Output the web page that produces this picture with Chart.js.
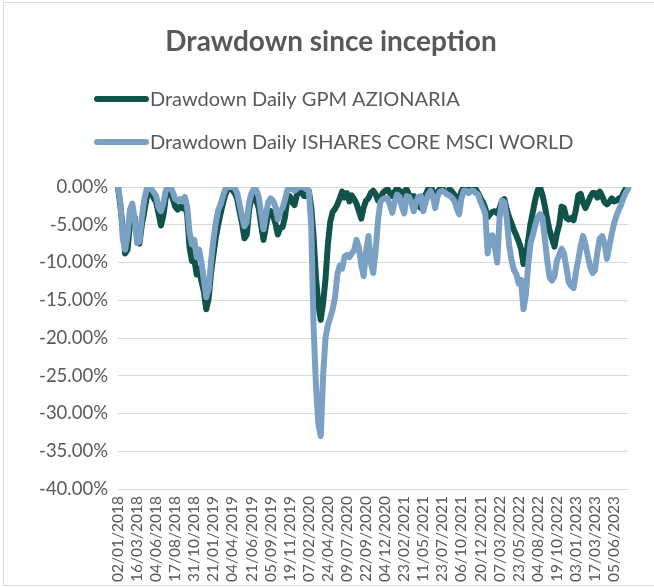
<!DOCTYPE html>
<html>
<head>
<meta charset="utf-8">
<script src="https://cdn.jsdelivr.net/npm/chart.js@4.4.1/dist/chart.umd.min.js"></script>
<style>
  html, body { margin: 0; padding: 0; background: #fff; }
  #wrap { width: 654px; height: 587px; position: relative; }
</style>
</head>
<body>
<div id="wrap"><canvas id="drawdown-chart" width="654" height="587"></canvas></div>
<script>
const TITLE = 'Drawdown since inception';
const SERIES_NAMES = ['Drawdown Daily GPM AZIONARIA', 'Drawdown Daily ISHARES CORE MSCI WORLD'];

// one tick label every 8 points
const TICK_LABELS = [
  '02/01/2018', '16/03/2018', '04/06/2018', '17/08/2018', '31/10/2018', '21/01/2019',
  '04/04/2019', '21/06/2019', '05/09/2019', '19/11/2019', '07/02/2020', '24/04/2020',
  '09/07/2020', '22/09/2020', '04/12/2020', '23/02/2021', '11/05/2021', '23/07/2021',
  '06/10/2021', '20/12/2021', '07/03/2022', '23/05/2022', '04/08/2022', '19/10/2022',
  '03/01/2023', '17/03/2023', '05/06/2023'
];
const POINTS_PER_TICK = 8;

const GPM = [
  0, -2.5, -5.5, -8.8, -8.3, -5, -3.3, -4, -6.6, -7.5,
  -5, -3.3, -1.5, -0.2, -0.8, -1.5, -2, -3.5, -5.1, -3.8,
  -1.5, -0.1, -0.7, -1.6, -2.6, -3, -2.6, -2.8, -2.5, -3.6,
  -8, -9.8, -9.6, -11.6, -10.8, -12.5, -13.8, -16.2, -14.8, -11.4,
  -9, -6.7, -5, -3.5, -2.2, -1, -0.3, -0.1, -0.4, -0.8,
  -1.6, -3.3, -4.8, -6.8, -6.3, -3, -1.4, -1.2, -1.8, -2.8,
  -5, -7, -5.3, -3.5, -3.2, -3.8, -4.8, -6.3, -5.4, -5.3,
  -4, -1.6, -1.2, -2, -2.4, -1, -0.7, -0.6, -1.2, -1.2,
  -0.5, -2.6, -6.5, -12, -15.6, -17.6, -15.4, -12.2, -7.6, -4.6,
  -3.3, -2.9, -2.3, -1.5, -0.6, -1.4, -0.8, -1.9, -1.1, -1.6,
  -2.2, -3.2, -4.2, -2.7, -1.8, -1.5, -0.8, -0.5, -0.9, -1.8,
  -1.5, -0.8, -0.5, -0.3, -0.8, -1.2, -0.6, -0.2, -0.5, -1.2,
  -0.6, -0.3, -1, -2, -1.2, -1.5, -2.5, -2.8, -1.8, -1,
  -0.3, 0, -0.5, -1.5, -0.8, -0.2, -0.2, -0.6, -0.8, -0.3,
  -0.6, -1, -1.8, -1.5, -0.6, 0, -0.2, -0.3, -0.1, -0.4,
  -0.3, -0.8, -1.5, -2, -2.8, -4, -3.6, -3.3, -3.2, -3.5,
  -2.8, -1.8, -1.6, -3, -4, -4.8, -5.7, -6.4, -7.2, -8.2,
  -10.2, -9.5, -7, -4.8, -3.2, -1.6, -0.4, -0.1, -1.1, -2.6,
  -4.3, -5.8, -6.9, -7.9, -6.2, -5, -2.6, -2.8, -4.1, -4.3,
  -4.1, -4.4, -3, -1.1, -0.9, -2.1, -2.8, -2.1, -1.3, -0.8,
  -0.8, -1.4, -0.6, -1.2, -2, -2.3, -2, -1.5, -1.9, -1.8,
  -1.5, -1.5, -0.7, -0.2, 0
];

const MSCI = [
  0, -2, -6.8, -8.3, -6.4, -3, -2.2, -4.2, -7.4, -7.2,
  -4, -1.7, -0.3, 0, -0.3, -0.7, -1.2, -2.7, -3.2, -2.2,
  -0.5, 0, 0, -0.7, -1.6, -1.8, -1.6, -1.9, -1.3, -2.6,
  -6, -7.6, -7, -9.3, -8.3, -10, -12.3, -14.6, -13.5, -9.9,
  -7, -4.7, -3.1, -2.3, -1.2, -0.3, 0, 0, 0, -0.2,
  -0.8, -2.3, -3.9, -5.2, -4.6, -2, -0.8, -0.2, -0.4, -1.3,
  -3.5, -5.6, -3.7, -2, -1.5, -1.8, -2.6, -4.3, -3.2, -2.8,
  -1.7, -0.4, 0, -0.3, -0.5, -0.2, 0, 0, -0.1, -0.3,
  -0.5, -5, -18.5, -26.3, -31.3, -33, -25, -20, -18.3, -17.3,
  -16.2, -14.6, -11.5, -10.4, -10.8, -9.2, -9, -9.3, -8.8, -8.4,
  -7, -8, -10.3, -11.8, -8.5, -6.5, -10, -11.4, -8.5, -4.5,
  -2, -1.6, -1.5, -1.5, -2.4, -3.4, -2, -1, -1.3, -2.6,
  -3.5, -1.2, -1.3, -2, -3.2, -2, -1.3, -1.2, -3.2, -2,
  -1, -0.5, -1.2, -2.8, -1.2, -0.6, -0.5, -0.7, -1, -1.1,
  -1.4, -1.8, -2.8, -3.6, -1.5, -0.5, -0.5, -0.8, -0.5, -0.5,
  -0.8, -1, -2, -2.7, -3.5, -8.8, -6.5, -6.4, -8, -10,
  -4, -1.8, -2, -4.2, -7.7, -9.7, -11, -11.5, -12.8, -12.3,
  -16.2, -14.3, -10.3, -7.4, -6.3, -5, -4, -3.6, -4.1, -7,
  -9.8, -12, -12.4, -11.8, -9.8, -9, -8.2, -8.8, -10.7, -12.6,
  -13.1, -13.4, -11.3, -9.6, -7.8, -6.5, -7.6, -9.2, -10.6, -11.4,
  -11, -8.6, -6.8, -6.5, -7.5, -9.5, -7.9, -6.2, -4.8, -3.8,
  -3, -2.3, -1.4, -0.7, -0.2
];

const GPM_COLOR = '#11524a';
const MSCI_COLOR = '#7aa0c4';
const TEXT_COLOR = '#595959';
const GRID_COLOR = '#d9d9d9';
const FONT = 'Lato, "Open Sans", sans-serif';

const labels = GPM.map((v, i) => i % POINTS_PER_TICK === 0 ? (TICK_LABELS[i / POINTS_PER_TICK] || '') : '');

// title, legend and outer frame are drawn by hand to match the Excel layout
const decorPlugin = {
  id: 'decor',
  afterDraw(chart) {
    const c = chart.ctx;
    c.save();
    c.strokeStyle = GRID_COLOR;
    c.lineWidth = 1;
    c.strokeRect(3.5, 2.5, 700, 583);

    c.fillStyle = TEXT_COLOR;
    c.font = 'bold 28px ' + FONT;
    c.textAlign = 'center';
    c.textBaseline = 'middle';
    c.fillText(TITLE, 331, 42);

    const colors = [GPM_COLOR, MSCI_COLOR];
    const ys = [99, 142];
    c.font = '20px ' + FONT;
    c.textAlign = 'left';
    for (let i = 0; i < SERIES_NAMES.length; i++) {
      c.strokeStyle = colors[i];
      c.lineWidth = 6;
      c.lineCap = 'round';
      c.beginPath();
      c.moveTo(97, ys[i]);
      c.lineTo(146, ys[i]);
      c.stroke();
      c.fillStyle = TEXT_COLOR;
      c.fillText(SERIES_NAMES[i], 150, ys[i] + 1);
    }
    c.restore();
  }
};

const ctx = document.getElementById('drawdown-chart');
const myChart = new Chart(ctx, {
  type: 'line',
  data: {
    labels: labels,
    datasets: [{
      label: SERIES_NAMES[0],
      data: GPM,
      borderColor: GPM_COLOR,
      backgroundColor: GPM_COLOR,
      borderWidth: 6,
      order: 1
    }, {
      label: SERIES_NAMES[1],
      data: MSCI,
      borderColor: MSCI_COLOR,
      backgroundColor: MSCI_COLOR,
      borderWidth: 6,
      order: 0
    }]
  },
  options: {
    responsive: false,
    animation: false,
    layout: {
      padding: { top: 187, right: 22, bottom: 0, left: 0 }
    },
    elements: {
      point: { radius: 0 },
      line: { tension: 0, borderJoinStyle: 'round', borderCapStyle: 'round' }
    },
    plugins: {
      legend: { display: false },
      title: { display: false },
      tooltip: { enabled: false }
    },
    scales: {
      x: {
        offset: false,
        grid: { display: false, drawTicks: false },
        border: { display: true, color: GRID_COLOR },
        ticks: {
          autoSkip: false,
          maxRotation: 90,
          minRotation: 90,
          padding: 7,
          color: TEXT_COLOR,
          font: { family: FONT, size: 15.5 }
        },
        afterFit(scale) { scale.height = 98; }
      },
      y: {
        min: -40,
        max: 0,
        grid: { color: GRID_COLOR, drawTicks: false },
        border: { display: false },
        ticks: {
          stepSize: 5,
          padding: 10,
          color: TEXT_COLOR,
          font: { family: FONT, size: 18.5 },
          callback: (v) => (v === 0 ? 0 : v).toFixed(2) + '%'
        },
        afterFit(scale) { scale.width = 118; }
      }
    }
  },
  plugins: [decorPlugin]
});
</script>
</body>
</html>
